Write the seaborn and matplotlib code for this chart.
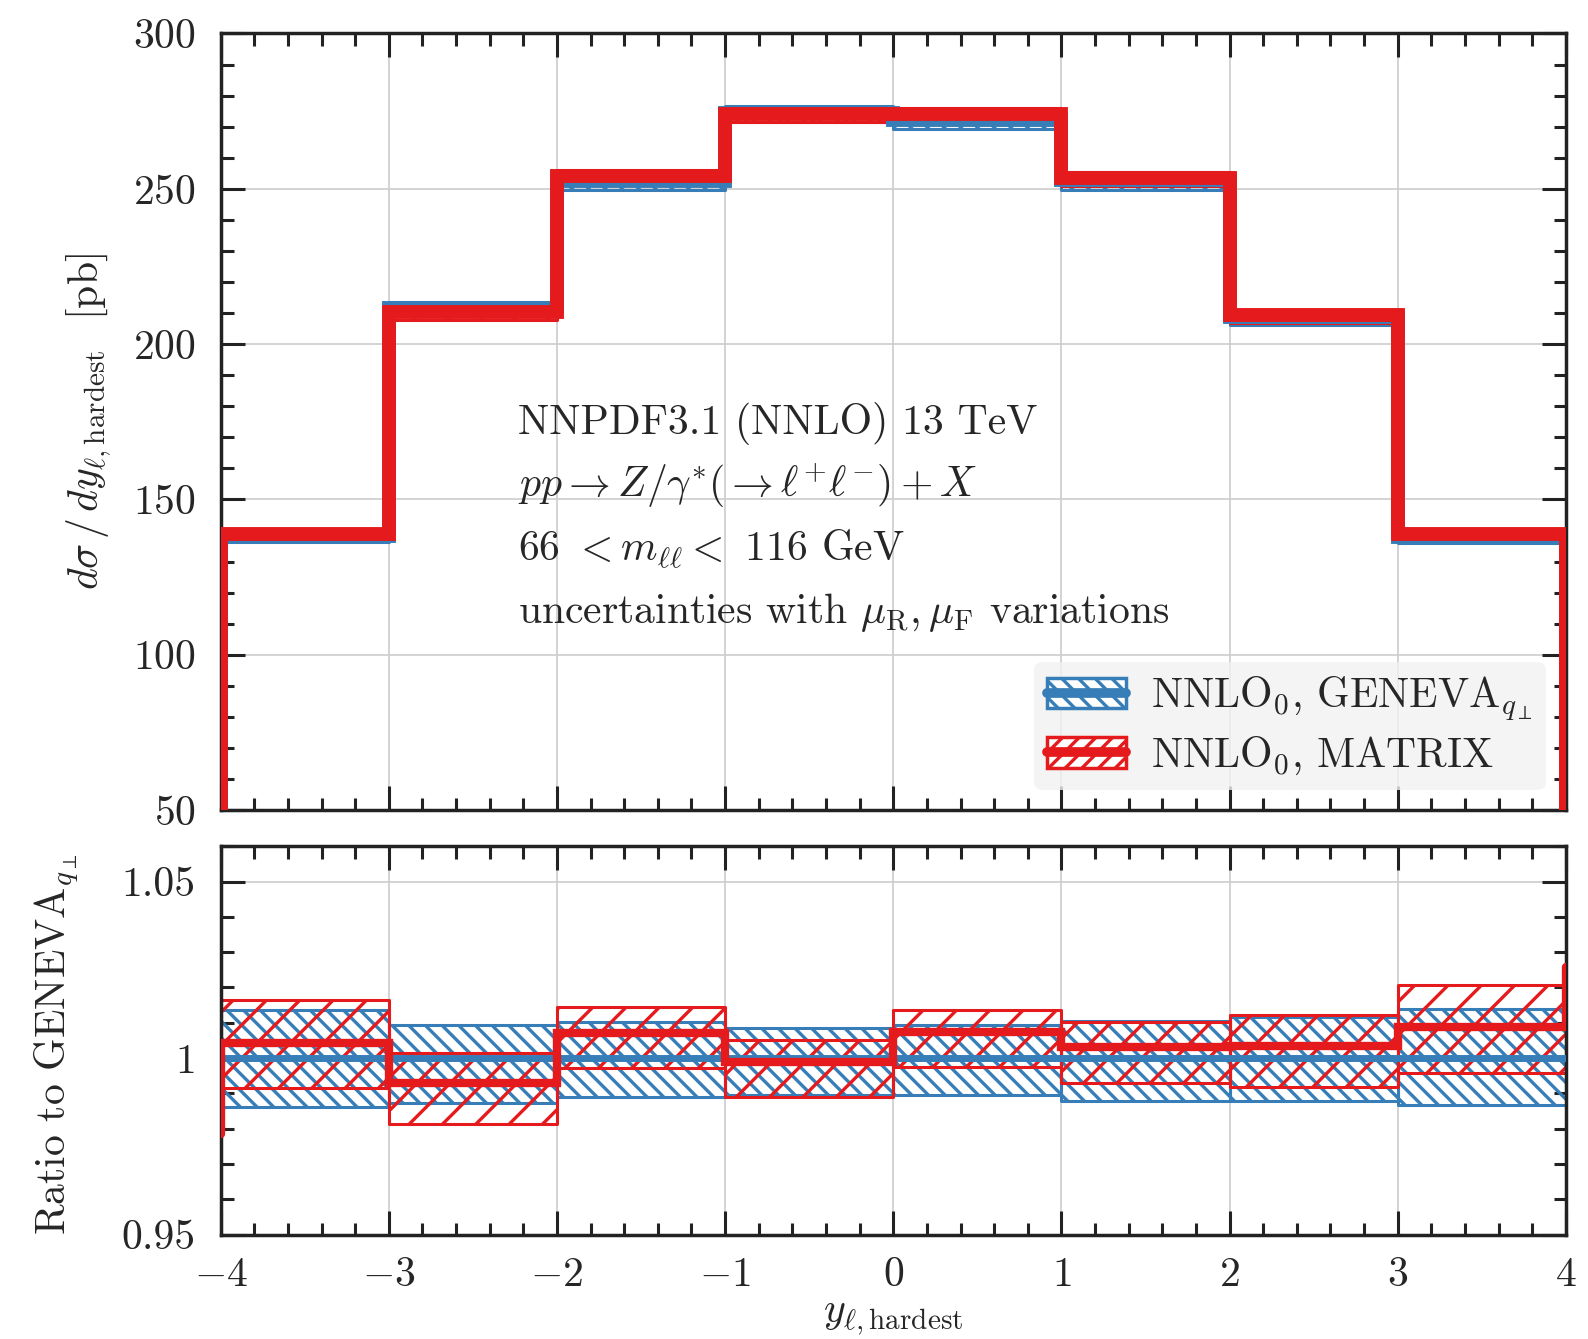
import numpy as np
import pandas as pd
import matplotlib
matplotlib.use("Agg")
import matplotlib.pyplot as plt
import seaborn as sns
from matplotlib.patches import Patch
from matplotlib.lines import Line2D
from matplotlib.ticker import MultipleLocator, FixedLocator, FuncFormatter

# bins in y_{l,hardest}
bin_edges = [-4, -3, -2, -1, 0, 1, 2, 3, 4]

# central values [pb]
geneva = [138.3, 211.7, 252.4, 274.5, 272.2, 252.8, 208.6, 137.8]
matrix = [138.9, 210.2, 254.2, 274.2, 274.2, 253.6, 209.3, 139.0]

# scale-variation bands, as ratio to GENEVA central
geneva_lo = [0.9862, 0.9872, 0.9891, 0.9895, 0.9895, 0.9877, 0.9877, 0.9867]
geneva_hi = [1.0136, 1.0093, 1.0103, 1.0084, 1.0093, 1.0105, 1.0117, 1.0140]
matrix_lo = [0.9914, 0.9813, 0.9971, 0.9891, 0.9975, 0.9928, 0.9919, 0.9957]
matrix_hi = [1.0164, 1.0013, 1.0145, 1.0051, 1.0136, 1.0103, 1.0122, 1.0206]
# odd end points of the MATRIX ratio histogram
matrix_ratio_ends = [0.9785, 1.0257]

info_lines = [
    "NNPDF3.1 (NNLO) 13 TeV",
    r"$pp \rightarrow Z/\gamma^{*}(\rightarrow \ell^{+}\ell^{-}) + X$",
    r"66 $< m_{\ell\ell} <$ 116 GeV",
    r"uncertainties with $\mu_{\mathrm{R}}, \mu_{\mathrm{F}}$ variations",
]

BLUE = "#377eb8"
RED = "#e41a1c"

sns.set_theme(style="ticks")
plt.rcParams["font.family"] = "cmr10"
plt.rcParams["mathtext.fontset"] = "cm"
plt.rcParams["axes.formatter.use_mathtext"] = True
plt.rcParams["hatch.linewidth"] = 2.4
plt.rcParams["axes.unicode_minus"] = True

FS = 30


def step_frame(vals, start, end):
    # histogram outline including the jumps at the outer edges
    x = [bin_edges[0]] + list(bin_edges) + [bin_edges[-1]]
    y = [start] + list(vals) + [vals[-1], end]
    return pd.DataFrame({"x": x, "y": y})


def draw_band(ax, lo, hi, color, hatch, lw=2.2):
    for i in range(len(lo)):
        ax.fill_between(bin_edges[i:i + 2], [lo[i]] * 2, [hi[i]] * 2,
                        facecolor="none", edgecolor=color, hatch=hatch,
                        linewidth=lw, zorder=2)


def draw_step(ax, df, color, lw):
    sns.lineplot(data=df, x="x", y="y", ax=ax, sort=False, estimator=None,
                 drawstyle="steps-post", color=color, linewidth=lw,
                 solid_joinstyle="miter", zorder=3)


fig = plt.figure(figsize=(15.88, 13.39), dpi=100)
ax = fig.add_axes([0.139, 0.395, 0.847, 0.580])
rax = fig.add_axes([0.139, 0.078, 0.847, 0.290])

geneva_a = np.array(geneva)
matrix_a = np.array(matrix)
ratio = matrix_a / geneva_a

# top panel
draw_step(ax, step_frame(geneva, 0, 0), BLUE, 10)
draw_band(ax, geneva_a * np.array(geneva_lo), geneva_a * np.array(geneva_hi), BLUE, "\\\\")
draw_step(ax, step_frame(matrix, 0, 0), RED, 10)
draw_band(ax, geneva_a * np.array(matrix_lo), geneva_a * np.array(matrix_hi), RED, "/")

# ratio panel
draw_band(rax, geneva_lo, geneva_hi, BLUE, "\\\\")
draw_step(rax, step_frame(np.ones(len(geneva)), 1, 1), BLUE, 5)
draw_band(rax, matrix_lo, matrix_hi, RED, "/")
draw_step(rax, step_frame(ratio, matrix_ratio_ends[0], matrix_ratio_ends[1]), RED, 6)

for a in (ax, rax):
    a.set_xlim(-4, 4)
    a.xaxis.set_major_locator(MultipleLocator(1))
    a.xaxis.set_minor_locator(MultipleLocator(0.2))
    a.grid(True, which="major", color="#cccccc", linewidth=1.2, zorder=0)
    a.set_axisbelow(True)
    a.tick_params(which="both", direction="in", top=True, right=True,
                  width=2.2, color="#222222", labelsize=FS)
    a.tick_params(which="major", length=17)
    a.tick_params(which="minor", length=9)
    for s in a.spines.values():
        s.set_linewidth(2.5)
        s.set_color("#222222")

ax.set_ylim(50, 300)
ax.yaxis.set_major_locator(MultipleLocator(50))
ax.yaxis.set_minor_locator(MultipleLocator(10))
ax.tick_params(axis="x", labelbottom=False)
ax.tick_params(axis="y", pad=18)
ax.set_xlabel("")
ax.set_ylabel(r"$d\sigma\,/\,dy_{\ell,\mathrm{hardest}}$  [pb]", fontsize=FS)
ax.yaxis.label.set_va("center")
ax.yaxis.set_label_coords(-0.098, 0.5)

rax.set_ylim(0.95, 1.06)
rax.yaxis.set_major_locator(FixedLocator([0.95, 1.0, 1.05]))
rax.yaxis.set_minor_locator(MultipleLocator(0.01))
rax.yaxis.set_major_formatter(FuncFormatter(lambda v, p: f"{v:g}"))
rax.tick_params(axis="y", pad=18)
rax.tick_params(axis="x", pad=16)
rax.set_xlabel(r"$y_{\ell,\mathrm{hardest}}$", fontsize=FS)
rax.xaxis.label.set_va("center")
rax.xaxis.set_label_coords(0.5, -0.215)
rax.set_ylabel(r"Ratio to GENEVA$_{q_{\perp}}$", fontsize=FS)
rax.yaxis.label.set_va("center")
rax.yaxis.set_label_coords(-0.122, 0.49)

for i, line in enumerate(info_lines):
    ax.text(0.221, 0.498 - 0.081 * i, line, transform=ax.transAxes,
            fontsize=FS, va="center", ha="left")

handles = [
    (Patch(facecolor="white", edgecolor=BLUE, hatch="\\\\", linewidth=2.5),
     Line2D([], [], color=BLUE, linewidth=7)),
    (Patch(facecolor="white", edgecolor=RED, hatch="//", linewidth=2.5),
     Line2D([], [], color=RED, linewidth=7)),
]
labels = [r"NNLO$_0$, GENEVA$_{q_{\perp}}$", r"NNLO$_0$, MATRIX"]
leg = ax.legend(handles, labels, loc="lower right", bbox_to_anchor=(0.985, 0.026),
                fontsize=FS, frameon=True, fancybox=True, framealpha=0.8,
                facecolor="#f2f2f2", edgecolor="none", handlelength=1.9,
                handleheight=0.75, handletextpad=0.6, labelspacing=0.3,
                borderpad=0.3, borderaxespad=0)

fig.savefig("out.png", dpi=100)
